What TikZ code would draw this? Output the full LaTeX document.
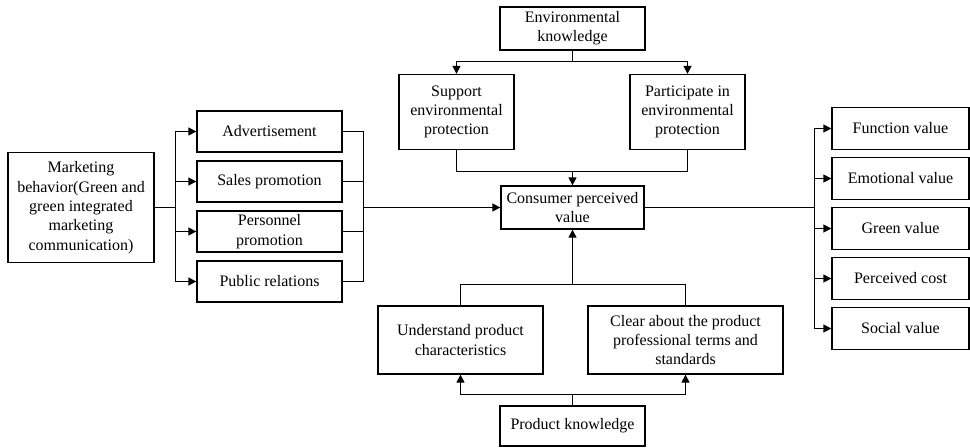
\documentclass[tikz,border=0pt]{standalone}
\usepackage{fontspec}
\setmainfont{Liberation Serif}
\usetikzlibrary{arrows.meta}
\begin{document}
\begin{tikzpicture}[x=0.75pt,y=-0.75pt,line width=1pt,
  box/.style={draw,align=center,inner sep=1pt,font=\fontsize{12}{14.5}\selectfont},
  arr/.style={-{Triangle[length=6pt,width=6pt]}}]
\useasboundingbox (0,0) rectangle (970,447);
% left side
\node[box,minimum width=109.5pt,minimum height=82.5pt] (mkt) at (81,207.5){Marketing\\behavior(Green and\\green integrated\\marketing\\communication)};
\node[box,minimum width=108.75pt,minimum height=30.75pt] (adv) at (269.5,131.5){Advertisement};
\node[box,minimum width=108.75pt,minimum height=30.75pt] (sales) at (269.5,181.5){Sales promotion};
\node[box,minimum width=108.75pt,minimum height=30.75pt] (pers) at (269.5,231.5){Personnel\\promotion};
\node[box,minimum width=108.75pt,minimum height=30.75pt] (pub) at (269.5,281.5){Public relations};
% middle
\node[box,minimum width=108.75pt,minimum height=32.25pt] (env) at (572.5,28.5){Environmental\\knowledge};
\node[box,minimum width=86.25pt,minimum height=56.25pt] (sup) at (456.5,112){Support\\environmental\\protection};
\node[box,minimum width=86.25pt,minimum height=56.25pt] (par) at (687.5,112){Participate in\\environmental\\protection};
\node[box,minimum width=107.25pt,minimum height=32.25pt] (cpv) at (572.5,207.5){Consumer perceived\\value};
\node[box,minimum width=123.75pt,minimum height=51pt] (und) at (460.5,340){Understand product\\characteristics};
\node[box,minimum width=146.25pt,minimum height=51pt] (clr) at (685.5,340){Clear about the product\\professional terms and\\standards};
\node[box,minimum width=108.75pt,minimum height=30pt] (prod) at (572.5,426){Product knowledge};
% right side
\node[box,minimum width=102.75pt,minimum height=31.5pt] (func) at (900.5,128.5){Function value};
\node[box,minimum width=102.75pt,minimum height=31.5pt] (emo) at (900.5,178.5){Emotional value};
\node[box,minimum width=102.75pt,minimum height=31.5pt] (green) at (900.5,228.5){Green value};
\node[box,minimum width=102.75pt,minimum height=31.5pt] (cost) at (900.5,278.5){Perceived cost};
\node[box,minimum width=102.75pt,minimum height=31.5pt] (soc) at (900.5,328.5){Social value};
% junctions
\coordinate (lb) at (175.5,207.5);
\coordinate (mb) at (363.5,207.5);
\coordinate (rb) at (814.5,207.5);
\coordinate (et) at (572.5,61.5);
\coordinate (st) at (572.5,171.5);
\coordinate (ub) at (572.5,284.5);
\coordinate (pb) at (572.5,394.5);
% connectors
\draw (mkt.east) -- (lb);
\draw[arr] (lb) |- (adv.west);
\draw[arr] (lb) |- (sales.west);
\draw[arr] (lb) |- (pers.west);
\draw[arr] (lb) |- (pub.west);
\draw (adv.east) -| (mb);
\draw (sales.east) -| (mb);
\draw (pers.east) -| (mb);
\draw (pub.east) -| (mb);
\draw[arr] (mb) -- (cpv.west);
\draw (env.south) -- (et);
\draw[arr] (et) -| (sup.north);
\draw[arr] (et) -| (par.north);
\draw (sup.south) |- (st);
\draw (par.south) |- (st);
\draw[arr] (st) -- (cpv.north);
\draw (und.north) |- (ub);
\draw (clr.north) |- (ub);
\draw[arr] (ub) -- (cpv.south);
\draw (prod.north) -- (pb);
\draw[arr] (pb) -| (und.south);
\draw[arr] (pb) -| (clr.south);
\draw (cpv.east) -- (rb);
\draw[arr] (rb) |- (func.west);
\draw[arr] (rb) |- (emo.west);
\draw[arr] (rb) |- (green.west);
\draw[arr] (rb) |- (cost.west);
\draw[arr] (rb) |- (soc.west);
\end{tikzpicture}
\end{document}
